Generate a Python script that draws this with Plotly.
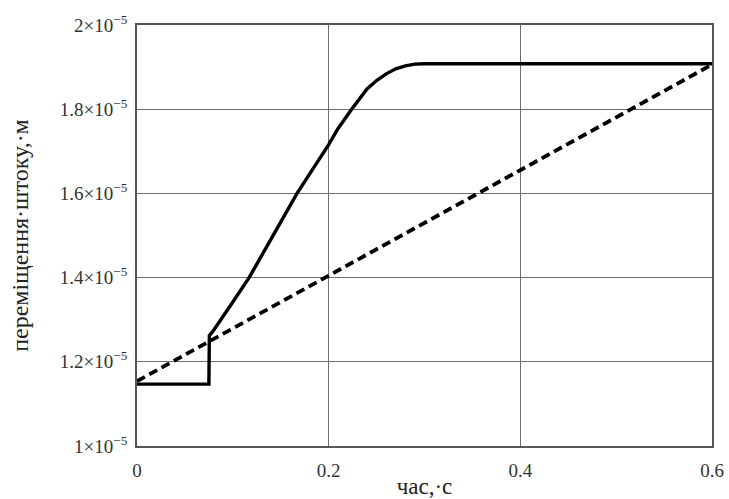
import plotly.graph_objects as go

# solid curve: rod displacement (m) vs time (s)
t_solid = [0.0, 0.075, 0.0755, 0.08, 0.10, 0.117, 0.14, 0.167, 0.20, 0.21, 0.224,
           0.233, 0.24, 0.25, 0.26, 0.27, 0.28, 0.29, 0.30, 0.40, 0.50, 0.60]
y_solid = [1.147e-5, 1.147e-5, 1.262e-5, 1.275e-5, 1.342e-5, 1.40e-5, 1.492e-5, 1.60e-5,
           1.716e-5, 1.755e-5, 1.80e-5, 1.828e-5, 1.848e-5, 1.868e-5, 1.884e-5,
           1.896e-5, 1.903e-5, 1.907e-5, 1.908e-5, 1.908e-5, 1.908e-5, 1.908e-5]

# dashed curve
t_dash = [0.0, 0.6]
y_dash = [1.154e-5, 1.906e-5]

x_tickvals = [0, 0.2, 0.4, 0.6]
x_ticktext = ["0", "0.2", "0.4", "0.6"]
y_tickvals = [1.0e-5, 1.2e-5, 1.4e-5, 1.6e-5, 1.8e-5, 2.0e-5]
y_ticktext = ["1×10<sup>−5</sup>", "1.2×10<sup>−5</sup>", "1.4×10<sup>−5</sup>",
              "1.6×10<sup>−5</sup>", "1.8×10<sup>−5</sup>", "2×10<sup>−5</sup>"]

font_family = "Liberation Serif"

fig = go.Figure()
fig.add_trace(go.Scatter(x=t_dash, y=y_dash, mode="lines",
                         line=dict(color="black", width=3.8, dash="9px,5px"),
                         showlegend=False))
fig.add_trace(go.Scatter(x=t_solid, y=y_solid, mode="lines",
                         line=dict(color="black", width=3.4),
                         showlegend=False))

fig.update_layout(
    width=729, height=499,
    margin=dict(l=137, r=17, t=25, b=53),
    paper_bgcolor="white", plot_bgcolor="white",
    font=dict(family=font_family, color="#333333", size=19),
    xaxis=dict(range=[0, 0.6], tickvals=x_tickvals, ticktext=x_ticktext,
               automargin=False,
               showgrid=True, gridcolor="#6e6e6e", gridwidth=1.2,
               zeroline=False, showline=True, linecolor="#555555", linewidth=1.5,
               mirror=True, ticks="", ticklabelstandoff=6,
               tickfont=dict(family=font_family, size=19, color="#333333"),
               title=dict(text="час,·с", standoff=4,
                          font=dict(family=font_family, size=23, color="#222222"))),
    yaxis=dict(range=[1e-5, 2e-5], tickvals=y_tickvals, ticktext=y_ticktext,
               automargin=False,
               showgrid=True, gridcolor="#6e6e6e", gridwidth=1.2,
               zeroline=False, showline=True, linecolor="#555555", linewidth=1.5,
               mirror=True, ticks="", ticklabelstandoff=4,
               tickfont=dict(family=font_family, size=19, color="#333333"),
               title=dict(text="переміщення·штоку,·м", standoff=24,
                          font=dict(family=font_family, size=24, color="#222222"))),
)

fig.write_html("out.html", config={"displayModeBar": False},
               post_script="document.body.style.margin='0';document.body.style.overflow='hidden';")
